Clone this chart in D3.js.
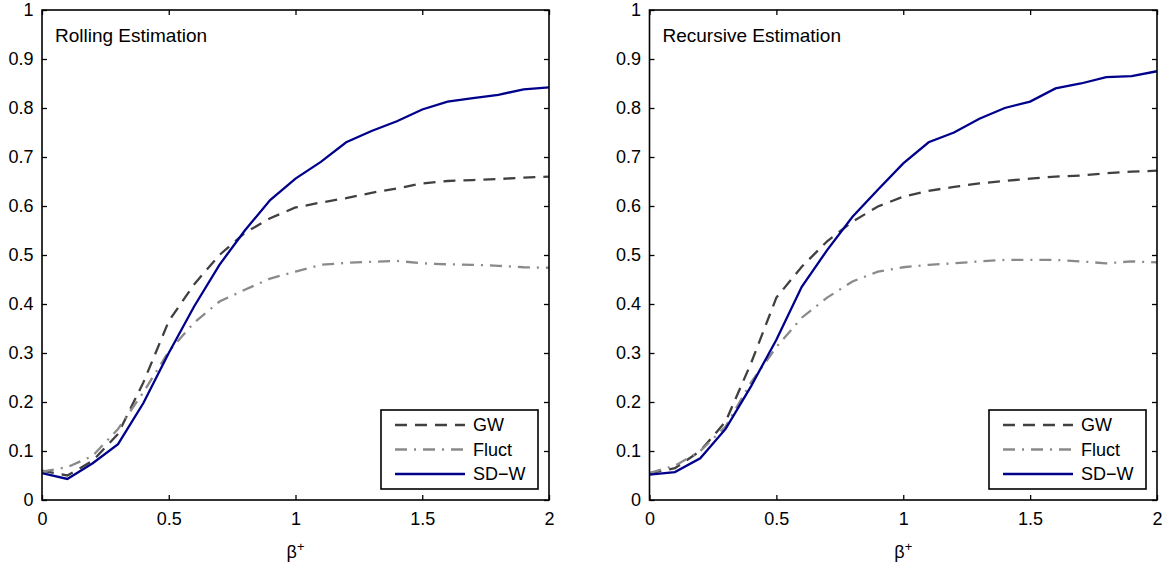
<!DOCTYPE html>
<html>
<head>
<meta charset="utf-8">
<script src="https://cdn.jsdelivr.net/npm/d3@7"></script>
<style>
    body { margin: 0; background: #fff; }
    svg text { font-family: "Liberation Sans", Arial, Helvetica, sans-serif; }
</style>
</head>
<body>
<svg id="chart" width="1169" height="567"></svg>
<script>
    "use strict";
    // beta+ grid, shared by both panels
    var betas = [0, 0.1, 0.2, 0.3, 0.4, 0.5, 0.6, 0.7, 0.8, 0.9, 1.0,
                 1.1, 1.2, 1.3, 1.4, 1.5, 1.6, 1.7, 1.8, 1.9, 2.0];
    var xTicks = [0, 0.5, 1, 1.5, 2];
    var yTicks = [0, 0.1, 0.2, 0.3, 0.4, 0.5, 0.6, 0.7, 0.8, 0.9, 1];
    var seriesNames = ["GW", "Fluct", "SD\u2212W"];
    var panelTitles = ["Rolling Estimation", "Recursive Estimation"];

    // rolling estimation
    var rollGW = [0.060, 0.050, 0.080, 0.135, 0.240, 0.365, 0.440, 0.500, 0.545, 0.575, 0.597,
                  0.607, 0.616, 0.627, 0.636, 0.646, 0.651, 0.653, 0.655, 0.658, 0.660];
    var rollFluct = [0.058, 0.067, 0.090, 0.145, 0.220, 0.303, 0.362, 0.405, 0.429, 0.452, 0.466,
                     0.480, 0.484, 0.486, 0.488, 0.483, 0.481, 0.480, 0.478, 0.475, 0.474];
    var rollSDW = [0.055, 0.043, 0.075, 0.114, 0.198, 0.300, 0.395, 0.480, 0.550, 0.612, 0.656,
                   0.690, 0.730, 0.753, 0.773, 0.797, 0.813, 0.820, 0.827, 0.838, 0.842];

    // recursive estimation
    var recGW = [0.055, 0.065, 0.100, 0.160, 0.279, 0.413, 0.476, 0.528, 0.568, 0.599, 0.619,
                 0.631, 0.639, 0.646, 0.651, 0.656, 0.660, 0.662, 0.667, 0.670, 0.672];
    var recFluct = [0.055, 0.070, 0.100, 0.150, 0.240, 0.312, 0.372, 0.413, 0.446, 0.466, 0.475,
                    0.480, 0.483, 0.487, 0.490, 0.490, 0.490, 0.487, 0.483, 0.487, 0.485];
    var recSDW = [0.052, 0.057, 0.085, 0.145, 0.232, 0.327, 0.435, 0.510, 0.578, 0.633, 0.687,
                  0.730, 0.750, 0.778, 0.800, 0.813, 0.840, 0.850, 0.863, 0.865, 0.875];

    var styles = [
        {color: "#404040", dash: "12,8"},
        {color: "#8a8a8a", dash: "12,7,2,7"},
        {color: "#00008b", dash: null}
    ];

    var svg = d3.select("#chart");
    var fontSize = 18;

    function drawPanel(left, right, title, data) {
        var top = 10, bottom = 500;
        var x = d3.scaleLinear().domain([0, 2]).range([left, right]);
        var y = d3.scaleLinear().domain([0, 1]).range([bottom, top]);
        var g = svg.append("g");

        // axes with inward ticks on all four sides
        g.append("g").attr("transform", "translate(0," + bottom + ")")
            .call(d3.axisBottom(x).tickValues(xTicks).tickSizeInner(-5).tickSizeOuter(0)
                  .tickPadding(12).tickFormat(d3.format("")));
        g.append("g").attr("transform", "translate(0," + top + ")")
            .call(d3.axisTop(x).tickValues(xTicks).tickSizeInner(-5).tickSizeOuter(0).tickFormat(""));
        g.append("g").attr("transform", "translate(" + left + ",0)")
            .call(d3.axisLeft(y).tickValues(yTicks).tickSizeInner(-5).tickSizeOuter(0)
                  .tickPadding(8.5).tickFormat(d3.format("")));
        g.append("g").attr("transform", "translate(" + right + ",0)")
            .call(d3.axisRight(y).tickValues(yTicks).tickSizeInner(-5).tickSizeOuter(0).tickFormat(""));
        g.selectAll(".domain").remove();
        g.selectAll(".tick line").attr("stroke", "#000").attr("stroke-width", 1.3);
        g.selectAll(".tick text").attr("fill", "#000").style("font-size", fontSize + "px");

        var line = d3.line().x(function (d, i) { return x(betas[i]); }).y(function (d) { return y(d); });
        data.forEach(function (vals, k) {
            g.append("path").datum(vals)
                .attr("d", line)
                .attr("fill", "none")
                .attr("stroke", styles[k].color)
                .attr("stroke-width", 2.3)
                .attr("stroke-dasharray", styles[k].dash);
        });

        g.append("rect")
            .attr("x", left).attr("y", top)
            .attr("width", right - left).attr("height", bottom - top)
            .attr("fill", "none").attr("stroke", "#000").attr("stroke-width", 1.6);

        g.append("text").attr("x", left + 13).attr("y", 42)
            .style("font-size", "19px").text(title);

        // legend
        var lw = 157, lh = 79;
        var lx = right - 11 - lw, ly = bottom - 11 - lh;
        var leg = g.append("g").attr("transform", "translate(" + lx + "," + ly + ")");
        leg.append("rect").attr("width", lw).attr("height", lh)
            .attr("fill", "#fff").attr("stroke", "#000").attr("stroke-width", 1.6);
        seriesNames.forEach(function (name, k) {
            var ry = 15 + k * 24.5;
            leg.append("line").attr("x1", 14).attr("x2", 84).attr("y1", ry).attr("y2", ry)
                .attr("stroke", styles[k].color).attr("stroke-width", 2.3)
                .attr("stroke-dasharray", styles[k].dash);
            leg.append("text").attr("x", 92).attr("y", ry).attr("dy", "0.36em")
                .style("font-size", fontSize + "px").text(name);
        });

        var xl = g.append("text").attr("x", (left + right) / 2).attr("y", 558)
            .attr("text-anchor", "middle").style("font-size", fontSize + "px");
        xl.append("tspan").text("\u03b2");
        xl.append("tspan").attr("dy", -7).style("font-size", "13px").text("+");
    }

    drawPanel(42, 549, panelTitles[0], [rollGW, rollFluct, rollSDW]);
    drawPanel(649.5, 1157, panelTitles[1], [recGW, recFluct, recSDW]);
</script>
</body>
</html>
